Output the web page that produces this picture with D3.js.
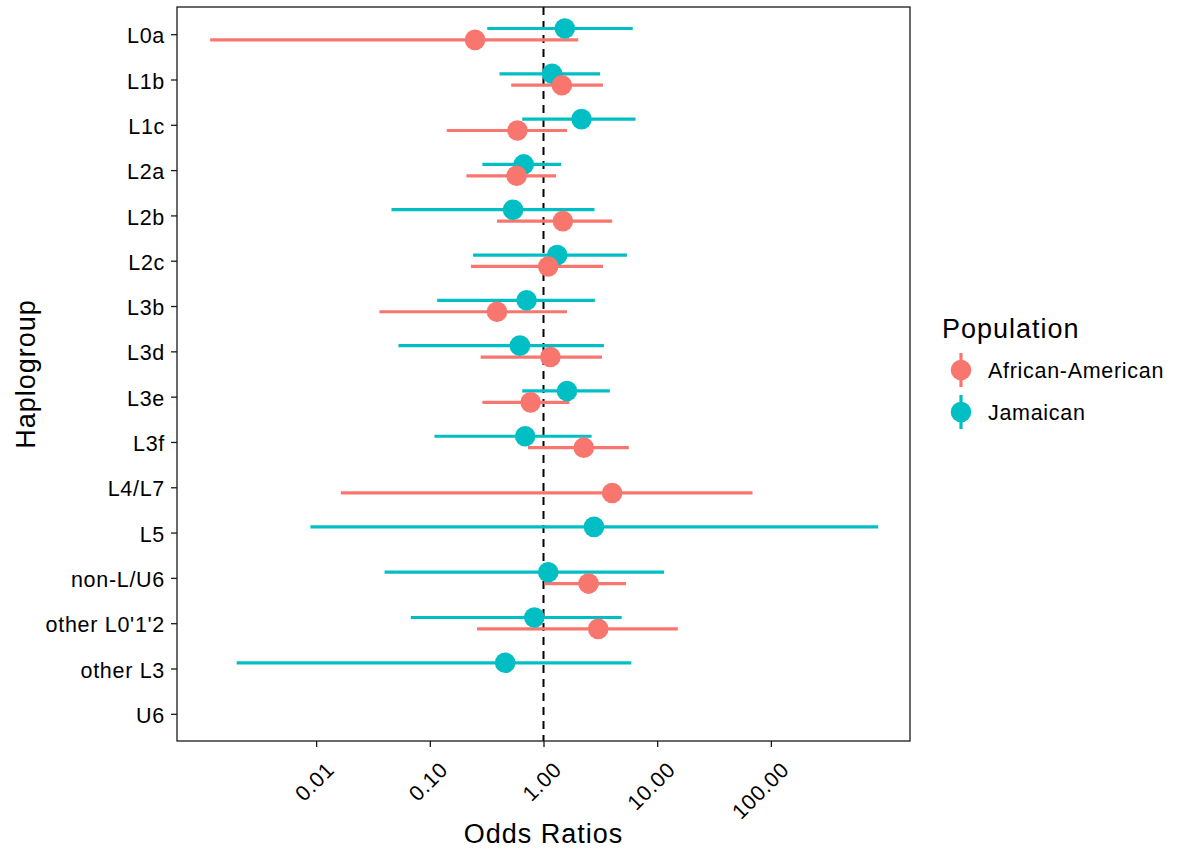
<!DOCTYPE html>
<html lang="en">
<head>
<meta charset="utf-8">
<title>Odds ratios by haplogroup</title>
<script src="https://d3js.org/d3.v7.min.js"></script>
<style>
  body { margin: 0; background: #fff; }
  text { font-family: "Liberation Sans", Arial, sans-serif; }
</style>
</head>
<body>
<script>
var w = 1181, h = 850;

// haplogroups, top to bottom
var groups = ["L0a", "L1b", "L1c", "L2a", "L2b", "L2c", "L3b", "L3d", "L3e", "L3f",
              "L4/L7", "L5", "non-L/U6", "other L0'1'2", "other L3", "U6"];

// African-American: estimate, lower, upper
var aaOR   = [0.25, 1.45, 0.59, 0.58, 1.48, 1.10, 0.39, 1.15, 0.77, 2.26, 4.02, null, 2.49, 3.03, null, null];
var aaLow  = [0.00117, 0.52, 0.141, 0.21, 0.39, 0.23, 0.036, 0.28, 0.29, 0.73, 0.0165, null, 1.02, 0.26, null, null];
var aaHigh = [2.02, 3.34, 1.61, 1.29, 4.02, 3.34, 1.61, 3.27, 1.69, 5.63, 69, null, 5.32, 15.2, null, null];

// Jamaican: estimate, lower, upper
var jaOR   = [1.54, 1.19, 2.16, 0.67, 0.54, 1.32, 0.71, 0.62, 1.61, 0.69, null, 2.78, 1.10, 0.83, 0.46, null];
var jaLow  = [0.32, 0.41, 0.65, 0.29, 0.046, 0.24, 0.116, 0.053, 0.65, 0.11, null, 0.0089, 0.040, 0.068, 0.0020, null];
var jaHigh = [6.1, 3.15, 6.45, 1.43, 2.81, 5.42, 2.83, 3.40, 3.83, 2.65, null, 879, 11.5, 4.87, 5.92, null];

var xTicks = [0.01, 0.1, 1, 10, 100];
var xTickLabels = ["0.01", "0.10", "1.00", "10.00", "100.00"];

var popNames = ["African-American", "Jamaican"];
var popColors = ["#F8766D", "#00BFC4"];

var panel = {left: 177, right: 910, top: 7, bottom: 741};
var dodge = 5.7;
var smallSz = "21.5px", bigSz = "27px";
var smallLs = "0.7px", bigLs = "1px";

var svg = d3.select("body").append("svg")
    .attr("width", w)
    .attr("height", h);

var x = d3.scaleLog()
    .domain([Math.pow(10, -3.224), Math.pow(10, 3.224)])
    .range([panel.left, panel.right]);

var y = d3.scalePoint()
    .domain(groups)
    .range([panel.top, panel.bottom])
    .padding(0.6);

function makeRows(est, lo, hi, off, pop) {
  var rows = [];
  groups.forEach(function(g, i) {
    if (est[i] == null) return;
    rows.push({g: g, est: est[i], lo: lo[i], hi: hi[i], off: off, pop: pop});
  });
  return rows;
}
var aaRows = makeRows(aaOR, aaLow, aaHigh, dodge, 0);
var jaRows = makeRows(jaOR, jaLow, jaHigh, -dodge, 1);

// panel background + reference line
svg.append("rect")
    .attr("x", panel.left).attr("y", panel.top)
    .attr("width", panel.right - panel.left)
    .attr("height", panel.bottom - panel.top)
    .attr("fill", "white");

svg.append("line")
    .attr("x1", x(1)).attr("x2", x(1))
    .attr("y1", panel.top).attr("y2", panel.bottom)
    .attr("stroke", "black")
    .attr("stroke-width", 2)
    .attr("stroke-dasharray", "8,6");

// ranges first, then points (jamaican under african-american)
var allRows = jaRows.concat(aaRows);
svg.selectAll("line.range")
    .data(allRows)
    .enter().append("line")
    .attr("class", "range")
    .attr("x1", function(d) { return x(d.lo); })
    .attr("x2", function(d) { return x(d.hi); })
    .attr("y1", function(d) { return y(d.g) + d.off; })
    .attr("y2", function(d) { return y(d.g) + d.off; })
    .attr("stroke", function(d) { return popColors[d.pop]; })
    .attr("stroke-width", 3.2);

svg.selectAll("circle.pt")
    .data(allRows)
    .enter().append("circle")
    .attr("class", "pt")
    .attr("cx", function(d) { return x(d.est); })
    .attr("cy", function(d) { return y(d.g) + d.off; })
    .attr("r", 10.3)
    .attr("fill", function(d) { return popColors[d.pop]; });

// panel border
svg.append("rect")
    .attr("x", panel.left).attr("y", panel.top)
    .attr("width", panel.right - panel.left)
    .attr("height", panel.bottom - panel.top)
    .attr("fill", "none")
    .attr("stroke", "#1a1a1a")
    .attr("stroke-width", 1.3);

// axes
var xAxis = svg.append("g")
    .attr("transform", "translate(0," + panel.bottom + ")")
    .call(d3.axisBottom(x).tickValues(xTicks).tickSize(6)
      .tickFormat(function(d, i) { return xTickLabels[i]; }));
xAxis.select(".domain").remove();
xAxis.selectAll(".tick line").attr("stroke", "#1a1a1a").attr("stroke-width", 1.3);
xAxis.selectAll(".tick text")
    .attr("fill", "black")
    .attr("font-size", smallSz)
    .attr("letter-spacing", smallLs)
    .attr("text-anchor", "end")
    .attr("dy", null)
    .attr("y", null)
    .attr("transform", "translate(19,30) rotate(-45)");

var yAxis = svg.append("g")
    .attr("transform", "translate(" + panel.left + ",0)")
    .call(d3.axisLeft(y).tickSize(6).tickPadding(6));
yAxis.select(".domain").remove();
yAxis.selectAll(".tick line").attr("stroke", "#1a1a1a").attr("stroke-width", 1.3);
yAxis.selectAll(".tick text")
    .attr("fill", "black")
    .attr("font-size", smallSz)
    .attr("letter-spacing", smallLs)
    .attr("dy", "0.4em");

// axis titles
svg.append("text")
    .attr("x", (panel.left + panel.right) / 2)
    .attr("y", 843)
    .attr("text-anchor", "middle")
    .attr("font-size", bigSz)
    .attr("letter-spacing", bigLs)
    .text("Odds Ratios");

svg.append("text")
    .attr("transform", "translate(35," + (panel.top + panel.bottom) / 2 + ") rotate(-90)")
    .attr("text-anchor", "middle")
    .attr("font-size", bigSz)
    .attr("letter-spacing", bigLs)
    .text("Haplogroup");

// legend
var legend = svg.append("g");
legend.append("text")
    .attr("x", 942).attr("y", 338)
    .attr("font-size", bigSz)
    .attr("letter-spacing", bigLs)
    .text("Population");

var keys = legend.selectAll("g.key")
    .data(popNames)
    .enter().append("g")
    .attr("class", "key")
    .attr("transform", function(d, i) { return "translate(961," + (370 + i * 42) + ")"; });
keys.append("line")
    .attr("y1", -17).attr("y2", 17)
    .attr("stroke", function(d, i) { return popColors[i]; })
    .attr("stroke-width", 3.2);
keys.append("circle")
    .attr("r", 10.3)
    .attr("fill", function(d, i) { return popColors[i]; });
keys.append("text")
    .attr("x", 27).attr("y", 8)
    .attr("font-size", smallSz)
    .attr("letter-spacing", smallLs)
    .text(function(d) { return d; });
</script>
</body>
</html>
